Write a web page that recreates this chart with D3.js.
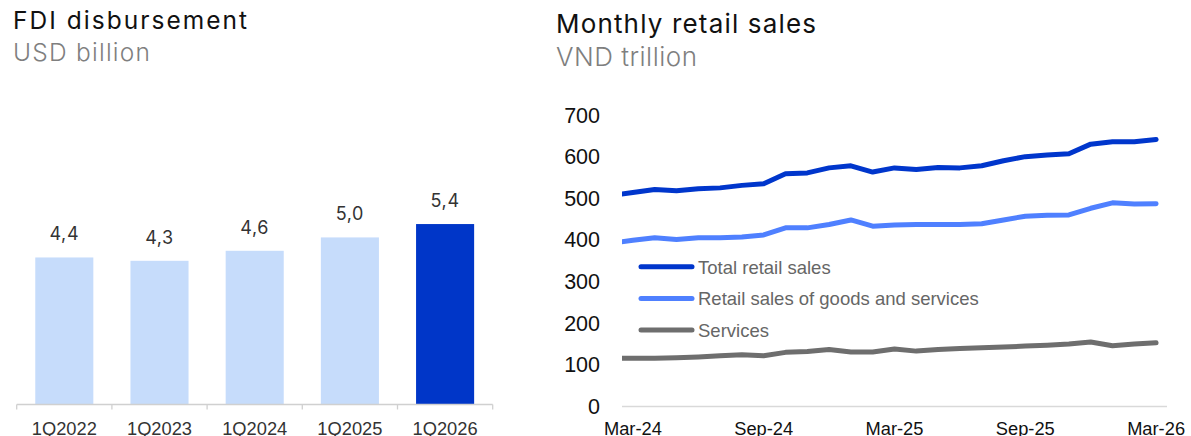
<!DOCTYPE html>
<html>
<head>
<meta charset="utf-8">
<script src="https://cdn.jsdelivr.net/npm/d3@7"></script>
<style>
  html, body { margin: 0; padding: 0; background: #fff; }
  svg { display: block; }
  .title { font-family: Inter, "Noto Sans", sans-serif; fill: #111; }
  .subtitle { font-family: Inter, "Noto Sans", sans-serif; fill: #7f7f7f; font-weight: 300; }
</style>
</head>
<body>
<svg id="chart" width="1191" height="436"></svg>
<script>
// ---- FDI disbursement (USD billion) ----
const fdiQuarters = ["1Q2022", "1Q2023", "1Q2024", "1Q2025", "1Q2026"];
const fdiValues = [4.4, 4.3, 4.6, 5.0, 5.4];
const fdiLabels = ["4,4", "4,3", "4,6", "5,0", "5,4"];

// ---- Monthly retail sales (VND trillion) ----
const months = ["Feb-24", "Mar-24", "Apr-24", "May-24", "Jun-24", "Jul-24", "Aug-24", "Sep-24",
  "Oct-24", "Nov-24", "Dec-24", "Jan-25", "Feb-25", "Mar-25", "Apr-25", "May-25", "Jun-25",
  "Jul-25", "Aug-25", "Sep-25", "Oct-25", "Nov-25", "Dec-25", "Jan-26", "Feb-26", "Mar-26"];
const totalRetail = [507, 514, 521, 518, 523, 525, 531, 535, 559, 561, 573, 578, 563, 573,
  569, 574, 573, 578, 590, 600, 604, 607, 630, 636, 636, 641];
const goodsServices = [392, 399, 405, 401, 405, 405, 407, 412, 429, 429, 437, 448, 433, 436,
  437, 437, 437, 439, 448, 457, 459, 460, 476, 489, 486, 487];
const servicesOnly = [116, 116, 116, 117, 119, 122, 124, 122, 130, 132, 137, 131, 131, 138,
  133, 137, 139, 141, 143, 145, 147, 150, 155, 146, 150, 153];
const seriesNames = ["Total retail sales", "Retail sales of goods and services", "Services"];
const monthTicks = ["Mar-24", "Sep-24", "Mar-25", "Sep-25", "Mar-26"];
const retailTicks = [0, 100, 200, 300, 400, 500, 600, 700];

const svg = d3.select("#chart");

function heading(g, cls, x, y, size, width, str) {
  g.append("text").attr("class", cls).attr("x", x).attr("y", y)
    .attr("font-size", size)
    .attr("textLength", width).attr("lengthAdjust", "spacing")
    .text(str);
}

// ================= Left panel: bars =================
const left = svg.append("g");
heading(left, "title", 13, 29, 24.5, 234, "FDI disbursement");
heading(left, "subtitle", 13, 61, 24.5, 137, "USD billion");

const xb = d3.scaleBand().domain(fdiQuarters).range([16.7, 492.7])
  .paddingInner(0.39).paddingOuter(0.195);
const yb = d3.scaleLinear().domain([0, 6]).range([404.5, 204]);

left.selectAll("rect.bar").data(fdiValues).join("rect")
  .attr("class", "bar")
  .attr("x", (d, i) => xb(fdiQuarters[i]))
  .attr("width", xb.bandwidth())
  .attr("y", d => yb(d))
  .attr("height", d => yb(0) - yb(d))
  .attr("fill", (d, i) => i === fdiValues.length - 1 ? "#0036C8" : "#C6DCFB");

left.selectAll("text.val").data(fdiValues).join("text")
  .attr("class", "val")
  .attr("x", (d, i) => xb(fdiQuarters[i]) + xb.bandwidth() / 2)
  .attr("y", d => yb(d) - 17)
  .attr("text-anchor", "middle")
  .attr("font-family", "Inter, 'Noto Sans', sans-serif")
  .attr("font-size", 18)
  .attr("letter-spacing", 0.6)
  .attr("fill", "#333")
  .text((d, i) => fdiLabels[i]);

// category axis with ticks on band boundaries
const axB = left.append("g");
const gap = (xb.step() - xb.bandwidth()) / 2;
const bounds = fdiQuarters.map(q => xb(q) - gap).concat([xb(fdiQuarters[fdiQuarters.length - 1]) + xb.bandwidth() + gap]);
axB.append("line").attr("x1", bounds[0]).attr("x2", bounds[bounds.length - 1])
  .attr("y1", yb(0)).attr("y2", yb(0)).attr("stroke", "#D0D0D0").attr("stroke-width", 1.3);
axB.selectAll("line.tk").data(bounds).join("line").attr("class", "tk")
  .attr("x1", d => d).attr("x2", d => d).attr("y1", yb(0)).attr("y2", yb(0) + 5)
  .attr("stroke", "#D0D0D0").attr("stroke-width", 1.3);
axB.selectAll("text").data(fdiQuarters).join("text")
  .attr("x", d => xb(d) + xb.bandwidth() / 2)
  .attr("y", 435)
  .attr("text-anchor", "middle")
  .attr("font-family", "'Liberation Sans', Arial, sans-serif")
  .attr("font-size", 18.3)
  .attr("fill", "#333")
  .text(d => d);

// ================= Right panel: lines =================
const right = svg.append("g");
heading(right, "title", 556, 33, 26, 260, "Monthly retail sales");
heading(right, "subtitle", 556, 66, 26, 141, "VND trillion");

const xl = d3.scalePoint().domain(months).range([611.1, 1156.1]);
const stepL = xl.step();
const plotLeft = xl("Mar-24") - stepL / 2;
const plotRight = xl("Mar-26") + stepL / 2;
const yl = d3.scaleLinear().domain([0, 700]).range([406.5, 115]);

// y tick labels
right.selectAll("text.ytk").data(retailTicks).join("text").attr("class", "ytk")
  .attr("x", 600).attr("y", d => yl(d) + 7.5)
  .attr("text-anchor", "end")
  .attr("font-family", "'Liberation Sans', Arial, sans-serif")
  .attr("font-size", 21.5)
  .attr("fill", "#111")
  .text(d => d);

// x axis baseline + labels
right.append("line").attr("x1", plotLeft).attr("x2", plotRight)
  .attr("y1", yl(0)).attr("y2", yl(0)).attr("stroke", "#D9D9D9").attr("stroke-width", 1.5);
right.selectAll("text.xtk").data(monthTicks).join("text").attr("class", "xtk")
  .attr("x", d => xl(d)).attr("y", 435)
  .attr("text-anchor", "middle")
  .attr("font-family", "'Liberation Sans', Arial, sans-serif")
  .attr("font-size", 18.3)
  .attr("fill", "#111")
  .text(d => d);

svg.append("defs").append("clipPath").attr("id", "plotClip")
  .append("rect").attr("x", plotLeft).attr("y", 0)
  .attr("width", plotRight - plotLeft + 10).attr("height", 436);

const series = [
  { name: seriesNames[0], values: totalRetail, color: "#0036CC" },
  { name: seriesNames[1], values: goodsServices, color: "#4F80FF" },
  { name: seriesNames[2], values: servicesOnly, color: "#6E6E6E" }
];

const line = d3.line().x((d, i) => xl(months[i])).y(d => yl(d));
right.append("g").attr("clip-path", "url(#plotClip)")
  .selectAll("path").data(series.slice().reverse()).join("path")
  .attr("d", d => line(d.values))
  .attr("fill", "none")
  .attr("stroke", d => d.color)
  .attr("stroke-width", 5)
  .attr("stroke-linejoin", "round")
  .attr("stroke-linecap", "round");

// legend
const leg = right.append("g");
series.forEach((s, i) => {
  const y = 266.7 + i * 31.7;
  leg.append("line").attr("x1", 641).attr("x2", 692).attr("y1", y).attr("y2", y)
    .attr("stroke", s.color).attr("stroke-width", 5).attr("stroke-linecap", "round");
  leg.append("text").attr("x", 698).attr("y", y + 6.8)
    .attr("font-family", "'Liberation Sans', Arial, sans-serif")
    .attr("font-size", 18.5)
    .attr("fill", "#666")
    .text(s.name);
});
</script>
</body>
</html>
